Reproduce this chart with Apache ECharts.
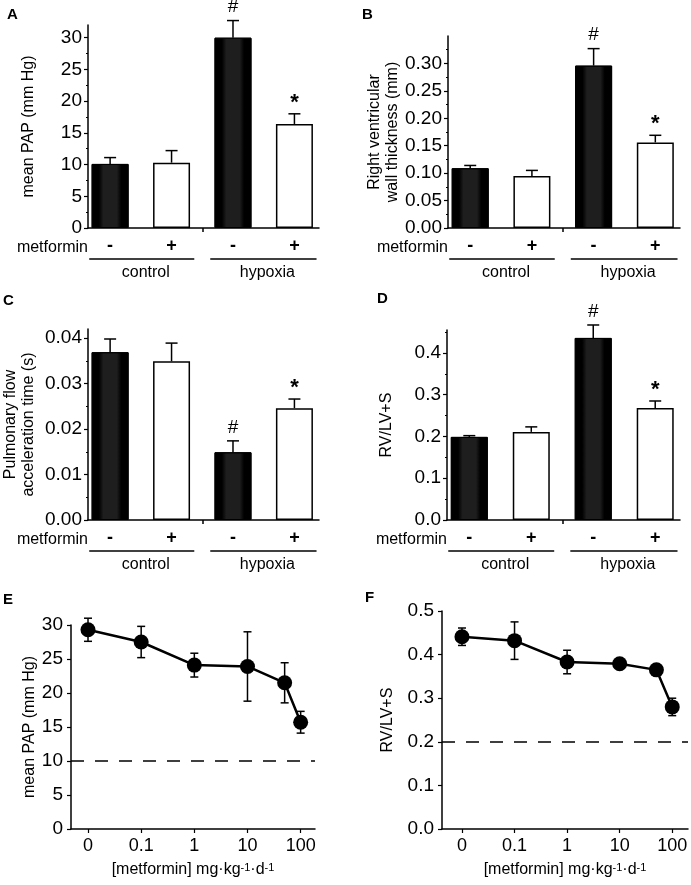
<!DOCTYPE html>
<html><head><meta charset="utf-8">
<script src="https://cdn.jsdelivr.net/npm/echarts@6/dist/echarts.min.js"></script>
<style>html,body{margin:0;padding:0;background:#fff}#c{width:691px;height:885px}</style>
</head><body><div id="c"></div>
<script>
// ---------- data ----------
const barCategories = ['-', '+', '-', '+'];          // metformin
const groupLabels = ['control', 'hypoxia'];
const sigMarks = ['', '', '#', '*'];

const papMean  = [10.1, 10.3, 30.0, 16.4];
const papErr   = [1.0, 1.9, 2.7, 1.6];
const papTicks = [0, 5, 10, 15, 20, 25, 30];

const rvwtMean  = [0.109, 0.095, 0.296, 0.156];
const rvwtErr   = [0.005, 0.010, 0.031, 0.013];
const rvwtTicks = [0, 0.05, 0.10, 0.15, 0.20, 0.25, 0.30];

const patMean  = [0.0369, 0.0349, 0.0149, 0.0246];
const patErr   = [0.0029, 0.0040, 0.0025, 0.0020];
const patTicks = [0, 0.01, 0.02, 0.03, 0.04];

const rvlvMean  = [0.199, 0.211, 0.436, 0.268];
const rvlvErr   = [0.003, 0.012, 0.031, 0.017];
const rvlvTicks = [0, 0.1, 0.2, 0.3, 0.4];

const doses      = [0, 0.1, 1, 10, 50, 100];         // mg/kg/d
const doseTicks  = [0, 0.1, 1, 10, 100];
const doseLabels = ['0', '0.1', '1', '10', '100'];

const papDoseMean = [29.3, 27.5, 24.1, 23.9, 21.5, 15.7];
const papDoseErr  = [1.7, 2.3, 1.75, 5.1, 2.95, 1.6];
const papDoseTicks = [0, 5, 10, 15, 20, 25, 30];
const papControl = 10;

const rvDoseMean = [0.441, 0.432, 0.383, 0.379, 0.365, 0.280];
const rvDoseErr  = [0.020, 0.043, 0.027, 0.008, 0.008, 0.020];
const rvDoseTicks = [0, 0.1, 0.2, 0.3, 0.4, 0.5];
const rvControl = 0.2;

// ---------- helpers ----------
const FONT = '"Liberation Sans", Arial, sans-serif';
const logPos = d => d === 0 ? -2 : Math.log10(d);   // "0" dose drawn one decade below 0.1

const chart = echarts.init(document.getElementById('c'), null, {renderer: 'canvas'});

const barPanels = [
  {grid: {left: 88, top: 25, width: 231, height: 203}, mean: papMean, err: papErr, max: 32, interval: 5, ticks: papTicks, dec: 0,
   name: 'mean PAP (mm Hg)', nameGap: 50},
  {grid: {left: 448, top: 36, width: 232, height: 192}, mean: rvwtMean, err: rvwtErr, max: 0.35, interval: 0.05, ticks: rvwtTicks, dec: 2,
   name: 'Right ventricular\nwall thickness (mm)', nameGap: 46},
  {grid: {left: 88, top: 329, width: 231, height: 191}, mean: patMean, err: patErr, max: 0.042, interval: 0.01, ticks: patTicks, dec: 2,
   name: 'Pulmonary flow\nacceleration time (s)', nameGap: 50},
  {grid: {left: 447, top: 330, width: 233, height: 190}, mean: rvlvMean, err: rvlvErr, max: 0.455, interval: 0.1, ticks: rvlvTicks, dec: 1,
   name: 'RV/LV+S', nameGap: 51}
];
const linePanels = [
  {grid: {left: 71, top: 625, width: 244, height: 204}, xMin: -2.32, xMax: 2.27, mean: papDoseMean, err: papDoseErr, max: 30, interval: 5,
   ticks: papDoseTicks, dec: 0, name: 'mean PAP (mm Hg)', nameGap: 31, base: papControl},
  {grid: {left: 442, top: 611, width: 246, height: 218}, xMin: -2.38, xMax: 2.30, mean: rvDoseMean, err: rvDoseErr, max: 0.5, interval: 0.1,
   ticks: rvDoseTicks, dec: 1, name: 'RV/LV+S', nameGap: 46, base: rvControl}
];

const BAR_X_MIN = 0.64, BAR_X_MAX = 4.4;
const axisLineStyle = {color: '#000', width: 1.5};

function errorRender(marks, capHalf, both) {
  return function (params, api) {
    const x = api.value(0), m = api.value(1), e = api.value(2);
    const top = api.coord([x, m + e]);
    const bot = api.coord([x, both ? m - e : m]);
    const st = {stroke: '#000', lineWidth: 1.5};
    const ch = [
      {type: 'line', shape: {x1: top[0], y1: top[1], x2: bot[0], y2: bot[1]}, style: st},
      {type: 'line', shape: {x1: top[0] - capHalf, y1: top[1], x2: top[0] + capHalf, y2: top[1]}, style: st}
    ];
    if (both) ch.push({type: 'line', shape: {x1: bot[0] - capHalf, y1: bot[1], x2: bot[0] + capHalf, y2: bot[1]}, style: st});
    const mk = marks && marks[params.dataIndex];
    if (mk) {
      const isStar = mk === '*';
      ch.push({type: 'text', style: {text: mk, x: top[0], y: top[1] - (isStar ? 0 : 4), align: 'center', verticalAlign: 'bottom',
        font: (isStar ? 'bold 22px ' : '19px ') + FONT, fill: '#000'}});
    }
    return {type: 'group', children: ch};
  };
}

const grids = [], xAxes = [], yAxes = [], series = [];

barPanels.forEach((p, i) => {
  grids.push(Object.assign({outerBoundsMode: 'none', containLabel: false}, p.grid));
  xAxes.push({
    gridIndex: i, type: 'value', min: BAR_X_MIN, max: BAR_X_MAX,
    axisLine: {show: true, onZero: false, lineStyle: axisLineStyle},
    axisTick: {show: true, customValues: [2.5], length: 4, lineStyle: {color: '#000', width: 1.5}},
    axisLabel: {show: true, customValues: [1, 2, 3, 4], formatter: v => barCategories[Math.round(v) - 1],
      fontSize: 18, fontWeight: 'bold', color: '#000', fontFamily: FONT, margin: 9},
    splitLine: {show: false}
  });
  yAxes.push({
    gridIndex: i, type: 'value', min: 0, max: p.max, interval: p.interval,
    axisLine: {show: true, onZero: false, lineStyle: axisLineStyle},
    axisTick: {show: true, customValues: p.ticks, length: 4, lineStyle: {color: '#000', width: 1.2}},
    minorTick: {show: true, splitNumber: 2, length: 2, lineStyle: {color: '#000', width: 1}},
    axisLabel: {customValues: p.ticks, formatter: v => v.toFixed(p.dec), fontSize: 19, color: '#000', fontFamily: FONT, margin: 6},
    splitLine: {show: false},
    name: p.name, nameLocation: 'middle', nameGap: p.nameGap,
    nameTextStyle: {fontSize: 16, color: '#000', fontFamily: FONT, lineHeight: 18}
  });
  series.push({
    type: 'bar', xAxisIndex: i, yAxisIndex: i, barWidth: 37, z: 2,
    data: p.mean.map((v, k) => ({
      value: [k + 1, v],
      itemStyle: barCategories[k] === '-' ?
        {color: new echarts.graphic.LinearGradient(0, 0, 1, 0, [
          {offset: 0, color: '#000'}, {offset: 0.2, color: '#000'}, {offset: 0.32, color: '#1e1e1e'},
          {offset: 0.68, color: '#1e1e1e'}, {offset: 0.8, color: '#000'}, {offset: 1, color: '#000'}]),
         borderColor: '#000', borderWidth: 1}
        : {color: '#fff', borderColor: '#000', borderWidth: 1.5}
    }))
  });
  series.push({
    type: 'custom', xAxisIndex: i, yAxisIndex: i, z: 3, clip: false,
    data: p.mean.map((v, k) => [k + 1, v, p.err[k]]),
    renderItem: errorRender(sigMarks, 6, false)
  });
});

linePanels.forEach((p, j) => {
  const i = j + barPanels.length;
  grids.push(Object.assign({outerBoundsMode: 'none', containLabel: false}, p.grid));
  const tickPos = doseTicks.map(logPos);
  xAxes.push({
    gridIndex: i, type: 'value', min: p.xMin, max: p.xMax,
    axisLine: {show: true, onZero: false, lineStyle: axisLineStyle},
    axisTick: {show: true, customValues: tickPos, length: 4, lineStyle: {color: '#000', width: 1.2}},
    axisLabel: {customValues: tickPos, formatter: v => doseLabels[tickPos.findIndex(t => Math.abs(t - v) < 1e-6)],
      fontSize: 18, color: '#000', fontFamily: FONT, margin: 8},
    splitLine: {show: false},
    name: '[metformin] mg·kg{sup|-1}·d{sup|-1}', nameLocation: 'middle', nameGap: 33,
    nameTextStyle: {fontSize: 16, color: '#000', fontFamily: FONT,
      rich: {sup: {fontSize: 11, color: '#000', fontFamily: FONT, verticalAlign: 'top', lineHeight: 11, padding: [0, 0, 6, 0]}}}
  });
  yAxes.push({
    gridIndex: i, type: 'value', min: 0, max: p.max, interval: p.interval,
    axisLine: {show: true, onZero: false, lineStyle: axisLineStyle},
    axisTick: {show: true, length: 4, lineStyle: {color: '#000', width: 1.2}},
    axisLabel: {formatter: v => v.toFixed(p.dec), fontSize: 19, color: '#000', fontFamily: FONT, margin: 8},
    splitLine: {show: false},
    name: p.name, nameLocation: 'middle', nameGap: p.nameGap,
    nameTextStyle: {fontSize: 16, color: '#000', fontFamily: FONT}
  });
  series.push({
    type: 'custom', xAxisIndex: i, yAxisIndex: i, z: 2, clip: false,
    data: p.mean.map((v, k) => [logPos(doses[k]), v, p.err[k]]),
    renderItem: errorRender(null, 4, true)
  });
  series.push({
    type: 'line', xAxisIndex: i, yAxisIndex: i, z: 4, clip: false,
    data: p.mean.map((v, k) => [logPos(doses[k]), v]),
    symbol: 'circle', symbolSize: 15,
    itemStyle: {color: '#000'}, lineStyle: {color: '#000', width: 2.5},
    markLine: {silent: true, symbol: 'none', label: {show: false},
      lineStyle: {color: '#000', width: 1.5, type: [13, 11]},
      data: [{yAxis: p.base}]}
  });
});

chart.setOption({
  animation: false,
  backgroundColor: '#fff',
  textStyle: {fontFamily: FONT},
  grid: grids, xAxis: xAxes, yAxis: yAxes, series: series
});

// ---------- decorations (letters, group labels) ----------
const graphics = [];
const letters = [['A', 7, 7], ['B', 362, 7], ['C', 3, 293], ['D', 377, 291], ['E', 3, 592], ['F', 365, 590]];
letters.forEach(([t, x, y]) => graphics.push({type: 'text', left: x, top: y,
  style: {text: t, font: 'bold 15px ' + FONT, fill: '#000'}}));

barPanels.forEach((p, i) => {
  const o = chart.convertToPixel({gridIndex: i}, [BAR_X_MIN, 0]);
  graphics.push({type: 'text', x: o[0], y: o[1] + 20,
    style: {text: 'metformin', font: '16px ' + FONT, fill: '#000', align: 'right', verticalAlign: 'middle'}});
  const spans = [[0.66, 2.37], [2.63, 4.36]];
  spans.forEach((s, g) => {
    const a = chart.convertToPixel({gridIndex: i}, [s[0], 0]);
    const b = chart.convertToPixel({gridIndex: i}, [s[1], 0]);
    graphics.push({type: 'line', shape: {x1: a[0], y1: a[1] + 31, x2: b[0], y2: b[1] + 31}, style: {stroke: '#000', lineWidth: 1.5}});
    graphics.push({type: 'text', x: (a[0] + b[0]) / 2 + 4, y: a[1] + 45,
      style: {text: groupLabels[g], font: '16px ' + FONT, fill: '#000', align: 'center', verticalAlign: 'middle'}});
  });
});
chart.setOption({graphic: graphics});
</script>
</body></html>
